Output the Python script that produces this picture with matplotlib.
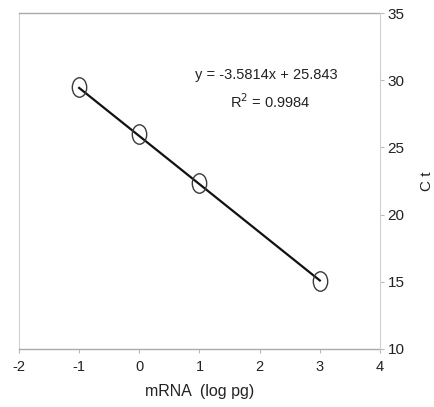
import matplotlib
matplotlib.use("Agg")
import matplotlib.pyplot as plt
import numpy as np
from matplotlib.path import Path
from matplotlib.transforms import Affine2D

plt.rcParams['font.family'] = ['Liberation Sans', 'DejaVu Sans']

x_vals = [-1, 0, 1, 3]
ct_vals = [29.5, 26.0, 22.35, 15.08]
slope = -3.5814
intercept = 25.843
x_ticks = [-2, -1, 0, 1, 2, 3, 4]
y_ticks = [10, 15, 20, 25, 30, 35]

fig = plt.figure(figsize=(4.35, 4.07), dpi=100)
ax = fig.add_axes([19/435, 1-349/407, (380-19)/435, (349-13)/407])

fit_x = np.array([min(x_vals), max(x_vals)])
ax.plot(fit_x, slope*fit_x + intercept, color='#111111', lw=1.6, zorder=2)

ell = Path(Affine2D().scale(0.74, 1.0).transform(Path.unit_circle().vertices),
           Path.unit_circle().codes)
ax.plot(x_vals, ct_vals, linestyle='none', marker=ell, markersize=14,
        markerfacecolor='none', markeredgecolor='#3a3a3a', markeredgewidth=1.0, zorder=3)

ax.set_xlim(-2, 4)
ax.set_ylim(10, 35)
ax.set_xticks(x_ticks)
ax.set_yticks(y_ticks)
ax.set_xticklabels([str(v) for v in x_ticks])
ax.set_yticklabels([str(v) for v in y_ticks])

ax.yaxis.tick_right()
ax.yaxis.set_label_position('right')
ax.tick_params(axis='both', direction='out', length=3, width=0.8, color='#bbbbbb',
               labelcolor='#222222')
ax.tick_params(axis='y', pad=2.5, labelsize=11)
ax.tick_params(axis='x', pad=5, labelsize=10.5)

for side in ['left', 'right']:
    ax.spines[side].set_color('#d0d0d0')
    ax.spines[side].set_linewidth(0.8)
for side in ['top', 'bottom']:
    ax.spines[side].set_color('#aaaaaa')
    ax.spines[side].set_linewidth(1.0)
    ax.spines[side].set_linestyle((0, (1, 1)))

ax.set_xlabel('mRNA  (log pg)', fontsize=11.5, color='#222222', labelpad=7)
ax.set_ylabel('C t', fontsize=11, color='#222222', labelpad=11)

ax.text(0.684, 0.815, 'y = -3.5814x + 25.843', transform=ax.transAxes,
        ha='center', va='center', fontsize=10.5, color='#222222')
ax.text(0.695, 0.737, r'R$^2$ = 0.9984', transform=ax.transAxes,
        ha='center', va='center', fontsize=10.5, color='#222222')

fig.savefig('out.png', dpi=100)
